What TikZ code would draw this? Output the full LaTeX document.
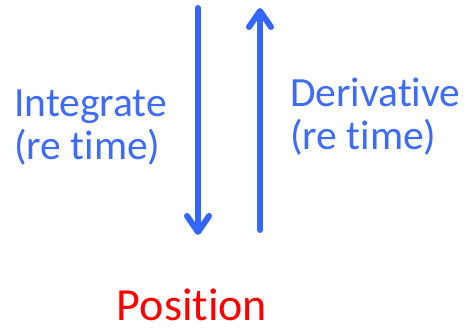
\documentclass[tikz,border=0pt]{standalone}
\usepackage{fontspec}
\setmainfont{Carlito}[RawFeature={-liga;-clig;-calt;-dlig;-rlig}]
\usetikzlibrary{arrows.meta}
\definecolor{arrowblue}{HTML}{3366FF}
\definecolor{labelblue}{HTML}{3D6BFB}
\definecolor{posred}{HTML}{FF0000}
\tikzset{
  flow/.style={draw=arrowblue, line width=6pt, line cap=round,
    -{Straight Barb[round, length=16pt, width=22pt]}},
  lbl/.style={inner sep=0pt, anchor=base west, text=labelblue,
    font=\fontsize{41.5}{46}\selectfont},
  poslbl/.style={inner sep=0pt, anchor=base, text=posred,
    font=\fontsize{46}{50}\selectfont}
}
\begin{document}
\begin{tikzpicture}[x=1pt, y=1pt]
  \useasboundingbox (0,0) rectangle (466,332);
  % arrow end points
  \coordinate (downTop) at (198,324);
  \coordinate (downEnd) at (198,97);
  \coordinate (upStart) at (260,102);
  \coordinate (upEnd) at (260,324);
  \draw[flow] (downTop) -- (downEnd);
  \draw[flow] (upStart) -- (upEnd);
  % labels
  \node[lbl] (int1) at (14,215) {Integrate};
  \node[lbl] (int2) at (14,172) {(re time)};
  \node[lbl] (der1) at (290,225) {Derivative};
  \node[lbl] (der2) at (290,182) {(re time)};
  \node[poslbl] (pos) at (192,11) {Position};
\end{tikzpicture}
\end{document}
